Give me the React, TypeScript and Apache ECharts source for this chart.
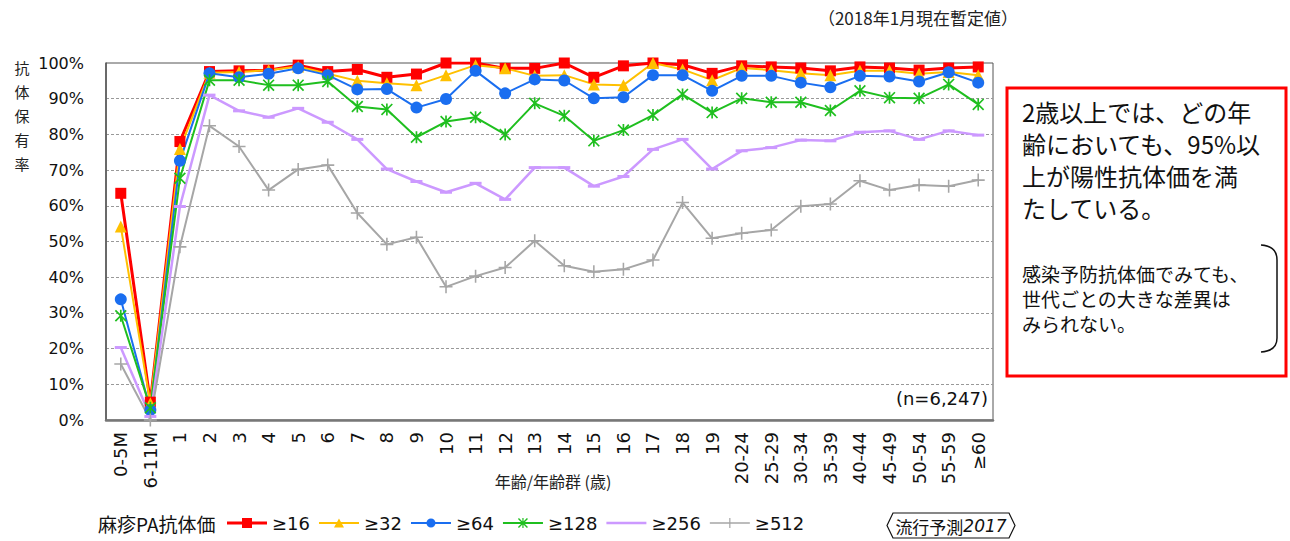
import React, { useEffect, useRef } from "react";
import * as echarts from "echarts";

const categories = [
  "0-5M", "6-11M", "1", "2", "3", "4", "5", "6", "7", "8", "9", "10", "11", "12", "13", "14", "15", "16", "17", "18", "19",
  "20-24", "25-29", "30-34", "35-39", "40-44", "45-49", "50-54", "55-59", "≥60",
];

const seriesNames = ["≥16", "≥32", "≥64", "≥128", "≥256", "≥512"];

const red16 = [63.5, 5, 78, 97.6, 97.8, 98, 99.4, 97.6, 98.2, 96, 96.9, 100, 100, 98.5, 98.5, 100, 96, 99.2, 100, 99.5, 97.1, 99.2, 98.9, 98.6, 97.8, 98.9, 98.6, 98, 98.6, 98.9];
const yellow32 = [54.2, 4.7, 75.9, 97.3, 97.5, 98, 99, 97, 95, 94.3, 93.8, 96.6, 99.4, 98.5, 96.4, 96.6, 94, 93.8, 100, 98.2, 95.2, 98.6, 98, 97.1, 96.6, 97.8, 97.8, 97, 97.5, 96.6];
const blue64 = [33.8, 2.8, 72.6, 97.1, 96, 97, 98.5, 96.6, 92.6, 92.7, 87.5, 89.9, 97.8, 91.5, 95.4, 95.1, 90.1, 90.4, 96.6, 96.6, 92.2, 96.4, 96.4, 94.5, 93.2, 96.4, 96.2, 94.8, 97.4, 94.5];
const green128 = [29.2, 3.4, 67.7, 95.2, 95.2, 93.8, 93.8, 94.8, 87.8, 87, 79.2, 83.6, 84.8, 80, 88.7, 85.2, 78.2, 81.2, 85.4, 91.2, 86.1, 90.1, 89, 89, 86.7, 92.2, 90.3, 90.1, 94, 88.4];
const purple256 = [20.3, 1, 59.8, 91, 86.6, 84.8, 87.3, 83.4, 78.6, 70.3, 66.8, 63.8, 66.3, 61.8, 70.7, 70.7, 65.5, 68.2, 75.8, 78.6, 70.3, 75.4, 76.3, 78.4, 78.2, 80.6, 81, 78.6, 81, 79.8];
const gray512 = [15.7, 0, 48.5, 82.4, 76.6, 64.4, 70.2, 71.4, 58, 49.2, 51.2, 37.3, 40.3, 42.7, 50.2, 43.2, 41.5, 42.2, 44.8, 60.9, 50.9, 52.3, 53.2, 59.9, 60.5, 67, 64.4, 65.8, 65.5, 67.2];

const STAR =
  "path://M4.3,0L5.7,0L5.7,10L4.3,10Z M0,1L1,0L10,9L9,10Z M10,1L1,10L0,9L9,0Z";
const PLUS = "path://M4.4,0H5.6V4.4H10V5.6H5.6V10H4.4V5.6H0V4.4H4.4Z";

// legend icons (40 x 14 box): line + marker
const BOX = "M0,0L0.01,0L0,0.01Z M40,14L39.99,14L40,13.99Z ";
const LEG_RED = "path://" + BOX + "M0,5.6H40V8.4H0Z M15,2H25V12H15Z";
const LEG_YEL = "path://" + BOX + "M0,6H40V8H0Z M20,2.5L25,11.5H15Z";
const LEG_BLU = "path://" + BOX + "M0,6H40V8H0Z M15.5,7A4.5,4.5 0 1,1 24.5,7A4.5,4.5 0 1,1 15.5,7Z";
const LEG_GRN =
  "path://" + BOX + "M0,6H40V8H0Z M19.4,2L20.6,2L20.6,12L19.4,12Z M15,3L16,2L25,11L24,12Z M25,3L16,12L15,11L24,2Z";
const LEG_PUR = "path://" + BOX + "M0,5.7H40V8.3H0Z";
const LEG_GRY = "path://" + BOX + "M0,6.3H40V7.7H0Z M19.4,2H20.6V6.4H25V7.6H20.6V12H19.4V7.6H15V6.4H19.4Z";
const legendIcons = [LEG_RED, LEG_YEL, LEG_BLU, LEG_GRN, LEG_PUR, LEG_GRY];

const LATIN = "'DejaVu Sans', Verdana, sans-serif";
const CJK = "'Noto Sans CJK JP', 'DejaVu Sans', sans-serif";

export default function App() {
  const ref = useRef<HTMLDivElement>(null);

  useEffect(() => {
    if (!ref.current) return;
    const chart = echarts.init(ref.current, undefined, { renderer: "svg" });

    const mk = (name: string, data: number[], color: string, symbol: any, size: any, width: number) => ({
      name,
      type: "line",
      data,
      symbol,
      symbolSize: size,
      showSymbol: true,
      lineStyle: { color, width },
      itemStyle: { color, borderWidth: 0 },
      emphasis: { disabled: true },
    });

    chart.setOption({
      animation: false,
      backgroundColor: "#ffffff",
      grid: {
        left: 106,
        right: 297,
        top: 63,
        bottom: 121,
        show: true,
        borderColor: "#555",
        borderWidth: 1,
        backgroundColor: "transparent",
      },
      xAxis: {
        type: "category",
        data: categories,
        boundaryGap: true,
        axisLine: { show: true, lineStyle: { color: "#777", width: 2.5 } },
        axisTick: { show: false },
        axisLabel: {
          rotate: 90,
          interval: 0,
          margin: 12,
          fontSize: 18,
          fontFamily: LATIN,
          color: "#111",
        },
        splitLine: { show: false },
      },
      yAxis: {
        type: "value",
        min: 0,
        max: 100,
        interval: 10,
        axisLine: { show: true, lineStyle: { color: "#555", width: 1.5 } },
        axisTick: { show: false },
        axisLabel: {
          formatter: "{value}%",
          margin: 22,
          fontSize: 16,
          fontFamily: LATIN,
          color: "#111",
        },
        splitLine: {
          show: true,
          showMinLine: false,
          showMaxLine: false,
          lineStyle: { color: "#999", width: 1, type: [3, 2] },
        },
      },
      legend: {
        data: seriesNames.map((n, i) => ({ name: n, icon: legendIcons[i] })),
        left: 227,
        top: 514,
        itemWidth: 40,
        itemHeight: 14,
        itemGap: 9,
        padding: 0,
        textStyle: { fontSize: 18, fontFamily: LATIN, color: "#111", padding: [0, 0, 0, 0] },
        selectedMode: false,
      },
      series: [
        mk("≥16", red16, "#ff0000", "rect", 11, 3),
        mk("≥32", yellow32, "#ffc000", "triangle", 12, 2),
        mk("≥64", blue64, "#1a6ef0", "circle", 12, 2),
        mk("≥128", green128, "#1fbf1f", STAR, 12, 2),
        mk("≥256", purple256, "#cc99ff", "rect", [12, 3], 2.5),
        mk("≥512", gray512, "#a6a6a6", PLUS, 13, 2),
      ],
      graphic: [
        {
          type: "text",
          x: 918,
          y: 17,
          style: {
            text: "（2018年1月現在暫定値）",
            fontSize: 17,
            fontFamily: CJK,
            fill: "#222",
            align: "center",
            verticalAlign: "middle",
          },
        },
        {
          type: "text",
          x: 22,
          y: 55,
          style: {
            text: "抗\n体\n保\n有\n率",
            fontSize: 15,
            lineHeight: 24,
            fontFamily: CJK,
            fill: "#222",
            align: "center",
            verticalAlign: "top",
          },
        },
        {
          type: "text",
          x: 553,
          y: 481,
          style: {
            text: "年齢/年齢群 (歳)",
            fontSize: 16,
            fontFamily: CJK,
            fill: "#222",
            align: "center",
            verticalAlign: "middle",
          },
        },
        {
          type: "text",
          x: 988,
          y: 398,
          style: {
            text: "(n=6,247)",
            fontSize: 18,
            fontFamily: LATIN,
            fill: "#111",
            align: "right",
            verticalAlign: "middle",
          },
        },
        {
          type: "text",
          x: 98,
          y: 523,
          style: {
            text: "麻疹PA抗体価",
            fontSize: 19,
            fontFamily: CJK,
            fill: "#111",
            verticalAlign: "middle",
          },
        },
        {
          type: "polygon",
          shape: {
            points: [
              [887, 525.5],
              [893, 513],
              [1009, 513],
              [1015, 525.5],
              [1009, 538],
              [893, 538],
            ],
          },
          style: { fill: "none", stroke: "#111", lineWidth: 1.2 },
        },
        {
          type: "text",
          x: 951,
          y: 526,
          style: {
            text: "{a|流行予測}{b|2017}",
            align: "center",
            verticalAlign: "middle",
            rich: {
              a: { fontSize: 17, fontFamily: CJK, fill: "#111" },
              b: { fontSize: 17, fontFamily: LATIN, fontStyle: "italic", fill: "#111" },
            },
          },
        },
        {
          type: "rect",
          shape: { x: 1007, y: 88, width: 279, height: 288 },
          style: { fill: "#fff", stroke: "#ff0000", lineWidth: 3 },
        },
        {
          type: "text",
          x: 1022,
          y: 95,
          style: {
            text: "2歳以上では、どの年\n齢においても、95%以\n上が陽性抗体価を満\nたしている。",
            fontSize: 24,
            lineHeight: 32,
            fontFamily: CJK,
            fill: "#111",
          },
        },
        {
          type: "text",
          x: 1022,
          y: 261,
          style: {
            text: "感染予防抗体価でみても、\n世代ごとの大きな差異は\nみられない。",
            fontSize: 19,
            lineHeight: 25,
            fontFamily: CJK,
            fill: "#111",
          },
        },
        {
          type: "bezierCurve",
          shape: { x1: 1261, y1: 245, x2: 1277, y2: 260, cpx1: 1277, cpy1: 246 },
          style: { stroke: "#111", lineWidth: 1.5, fill: "none" },
        },
        {
          type: "line",
          shape: { x1: 1277, y1: 260, x2: 1277, y2: 338 },
          style: { stroke: "#111", lineWidth: 1.5 },
        },
        {
          type: "bezierCurve",
          shape: { x1: 1277, y1: 338, x2: 1261, y2: 352, cpx1: 1277, cpy1: 351 },
          style: { stroke: "#111", lineWidth: 1.5, fill: "none" },
        },
      ],
    });

    return () => chart.dispose();
  }, []);

  return (
    <div
      ref={ref}
      style={{ position: "absolute", left: 0, top: 0, width: 1290, height: 541 }}
    />
  );
}
